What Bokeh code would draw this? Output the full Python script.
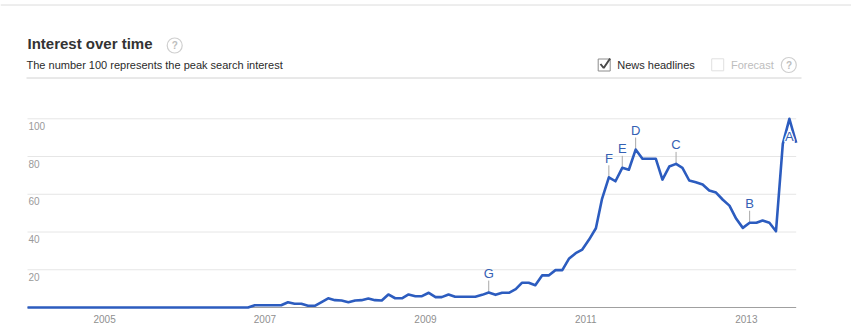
import pandas as pd
from bokeh.plotting import figure
from bokeh.models import Range1d, FixedTicker, DatetimeTickFormatter
from bokeh.core.properties import value
from bokeh.embed import file_html
from bokeh.resources import INLINE

# ---------------- data ----------------
MONTHS = pd.date_range("2004-01-01", "2013-08-01", freq="MS")
INTEREST = [
    0, 0, 0, 0, 0, 0, 0, 0, 0, 0, 0, 0,            # 2004
    0, 0, 0, 0, 0, 0, 0, 0, 0, 0, 0, 0,            # 2005
    0, 0, 0, 0, 0, 0, 0, 0, 0, 0, 1.2, 1.2,        # 2006
    1.2, 1.2, 1.2, 2.8, 2, 2, 0.9, 0.9, 2.9, 4.9, 3.9, 3.7,        # 2007
    2.8, 3.7, 3.9, 4.8, 3.9, 3.7, 6.9, 4.9, 4.9, 6.9, 6, 6,        # 2008
    7.8, 5.5, 5.5, 6.9, 5.7, 5.7, 5.7, 5.7, 6.7, 7.9, 6.7, 7.8,    # 2009
    7.8, 9.7, 13.1, 13.1, 11.8, 17, 17, 19.8, 19.8, 25.8, 28.8, 30.7,  # 2010
    36, 42, 57.6, 69, 66.9, 74, 73, 83.7, 78.8, 78.8, 78.8, 67.8,  # 2011
    74.7, 76.1, 74, 67.3, 66.4, 65.2, 62, 60.9, 57.1, 54, 47, 42.2,  # 2012
    44.9, 44.9, 46.1, 44.9, 40.4, 86.7, 100, 87.3,                   # 2013
]
NEWS_MONTHS = ["2009-10", "2011-04", "2011-06", "2011-08", "2012-02", "2013-01", "2013-07"]
NEWS_LETTERS = ["G", "F", "E", "D", "C", "B", "A"]
Y_TICKS = [20, 40, 60, 80, 100]
Y_TICK_LABELS = ["20", "40", "60", "80", "100"]
YEAR_TICKS = ["2005", "2007", "2009", "2011", "2013"]

assert len(INTEREST) == len(MONTHS)

# ---------------- layout constants ----------------
W, H = 851, 332
X_FIRST_PX, X_LAST_PX = 27, 795.7
ZERO_PX, HUNDRED_PX = 307, 118.3
FRAME_BOTTOM = 309
PX_PER_UNIT = (ZERO_PX - HUNDRED_PX) / 100.0
FONT = value("Liberation Sans")
LINE_BLUE = "#2c5cbf"
LETTER_BLUE = "#3560b3"

dates = MONTHS + pd.Timedelta(days=15)          # points sit mid-month
ms = dates.values.astype("datetime64[ms]").astype("int64")
mpp = (ms[-1] - ms[0]) / (X_LAST_PX - X_FIRST_PX)
x_range = Range1d(ms[0] - X_FIRST_PX * mpp, ms[-1] + (W - X_LAST_PX) * mpp)
y_range = Range1d(-(FRAME_BOTTOM - ZERO_PX) / PX_PER_UNIT, ZERO_PX / PX_PER_UNIT)

p = figure(width=W, height=H, x_axis_type="datetime", y_axis_location=None,
           x_range=x_range, y_range=y_range, output_backend="svg",
           toolbar_location=None, min_border=0, min_border_bottom=H - FRAME_BOTTOM,
           outline_line_color=None, background_fill_color="white",
           border_fill_color="white")
p.grid.visible = False
p.extra_x_ranges = {"px": Range1d(0, W)}
p.extra_y_ranges = {"px": Range1d(FRAME_BOTTOM, 0)}
PX = dict(x_range_name="px", y_range_name="px")

# ---------------- x axis ----------------
year_ms = [pd.Timestamp(f"{y}-01-01").value // 10**6 for y in YEAR_TICKS]
ax = p.xaxis[0]
ax.ticker = FixedTicker(ticks=year_ms)
ax.formatter = DatetimeTickFormatter(years="%Y", months="%Y", days="%Y", hours="%Y",
                                     minutes="%Y", seconds="%Y", minsec="%Y",
                                     hourmin="%Y", milliseconds="%Y", microseconds="%Y")
ax.axis_line_color = None
ax.major_tick_line_color = None
ax.minor_tick_line_color = None
ax.major_tick_out = 0
ax.major_tick_in = 0
ax.major_label_standoff = 5
ax.major_label_text_font = "Liberation Sans"
ax.major_label_text_font_size = "10px"
ax.major_label_text_color = "#8f8f8f"

# ---------------- grid & baseline ----------------
first, last = dates[0], dates[-1]
p.segment(x0=[first] * len(Y_TICKS), x1=[last] * len(Y_TICKS), y0=Y_TICKS, y1=Y_TICKS,
          line_color="#e6e6e6", line_width=1)
p.segment(x0=[first], x1=[last], y0=[0], y1=[0], line_color="#a0a0a0", line_width=1)
p.text(x=[first] * len(Y_TICKS), y=Y_TICKS, text=Y_TICK_LABELS, x_offset=1, y_offset=3,
       text_align="left", text_baseline="top", text_font=FONT,
       text_font_size="10px", text_color="#9a9a9a")

# ---------------- news flags ----------------
month_keys = [d.strftime("%Y-%m") for d in MONTHS]
n_idx = [month_keys.index(m) for m in NEWS_MONTHS]
n_x = [dates[i] for i in n_idx]
n_y = [INTEREST[i] for i in n_idx]
TICK_LEN = 12 / PX_PER_UNIT
above = [v + TICK_LEN + 10 / PX_PER_UNIT < 100 for v in n_y]
tx = [x for x, a in zip(n_x, above) if a]
ty = [y for y, a in zip(n_y, above) if a]
p.segment(x0=tx, x1=tx, y0=ty, y1=[y + TICK_LEN for y in ty],
          line_color="#a8a8a8", line_width=1)

# ---------------- main line ----------------
p.line(x=dates, y=INTEREST, line_color=LINE_BLUE, line_width=2.6, line_join="round")

lx = [x for x, a in zip(n_x, above) if a]
ly = [y for y, a in zip(n_y, above) if a]
ll = [t for t, a in zip(NEWS_LETTERS, above) if a]
p.text(x=lx, y=ly, text=ll, y_offset=-19, text_align="center",
       text_baseline="middle", text_font=FONT, text_font_size="13px",
       text_color=LETTER_BLUE)

# flags with no head-room sit on the point itself, with a white halo
bx = [x for x, a in zip(n_x, above) if not a]
by = [y for y, a in zip(n_y, above) if not a]
bl = [t for t, a in zip(NEWS_LETTERS, above) if not a]
for dx, dy in [(-1, 0), (1, 0), (0, -1), (0, 1), (-1, -1), (1, -1), (-1, 1), (1, 1)]:
    p.text(x=bx, y=by, text=bl, x_offset=dx, y_offset=18 + dy, text_align="center",
           text_baseline="middle", text_font=FONT, text_font_size="13px",
           text_color="white")
p.text(x=bx, y=by, text=bl, y_offset=18, text_align="center",
       text_baseline="middle", text_font=FONT, text_font_size="13px",
       text_color=LETTER_BLUE)

# ---------------- header ----------------
p.segment(x0=[0], x1=[W], y0=[4.5], y1=[4.5], line_color="#dcdcdc", line_width=1, **PX)
p.text(x=[27], y=[43.2], text=["Interest over time"], text_font=FONT,
       text_font_style="bold", text_font_size="15px", text_color="#333333",
       text_baseline="middle", **PX)
p.scatter(x=[174.2, 788.3], y=[45, 64.5], marker="circle", size=15,
          fill_color="white", line_color="#cfcfcf", line_width=1.2, **PX)
p.text(x=[174.4, 788.5], y=[45.3, 64.8], text=["?", "?"], text_font=FONT,
       text_font_size="10px", text_font_style="bold", text_color="#bdbdbd",
       text_align="center", text_baseline="middle", **PX)
p.text(x=[26], y=[64.6], text=["The number 100 represents the peak search interest"],
       text_font=FONT, text_font_size="11px", text_color="#2b2b2b",
       text_baseline="middle", **PX)
p.segment(x0=[26], x1=[801], y0=[77.5], y1=[77.5], line_color="#d2d2d2",
          line_width=1, **PX)
p.rect(x=[603.7, 717.2], y=[64.5, 64.3], width=12, height=12,
       fill_color="white", line_color=["#8c8c8c", "#e0e0e0"], line_width=1, **PX)
p.line(x=[600, 603.2, 609.6], y=[63.5, 67.5, 58], line_color="#4a4a4a",
       line_width=2, **PX)
p.text(x=[616.7], y=[64.4], text=["News headlines"], text_font=FONT,
       text_font_size="11px", text_color="#2b2b2b", text_baseline="middle", **PX)
p.text(x=[730.5], y=[64.4], text=["Forecast"], text_font=FONT,
       text_font_size="11px", text_color="#bdbdbd", text_baseline="middle", **PX)

open("out.html", "w").write(file_html(p, INLINE))
